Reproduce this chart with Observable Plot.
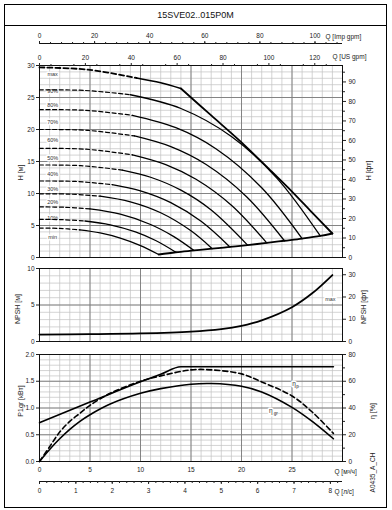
<!DOCTYPE html>
<html><head><meta charset="utf-8">
<script src="https://cdn.jsdelivr.net/npm/d3@7"></script>
<script src="https://cdn.jsdelivr.net/npm/@observablehq/plot@0.6"></script>
<style>
body{margin:0;background:#fff;}
#wrap{position:relative;width:392px;height:510px;font-family:"Liberation Sans",Arial,sans-serif;overflow:hidden;}
#wrap svg{position:absolute;left:0;top:0;}
#frame{position:absolute;left:4px;top:4px;width:383px;height:504px;border:1px solid #000;box-sizing:border-box;}
#titlebar{position:absolute;left:4px;top:25px;width:383px;height:0;border-top:1px solid #000;}
#title{position:absolute;left:4px;top:5px;width:383px;height:20px;line-height:20px;text-align:center;font-size:9px;color:#111;}
</style></head><body><div id="wrap"><div id="frame"></div><div id="titlebar"></div><div id="title"></div></div>
<script>
// ---------- DATA ----------
const title = "15SVE02..015P0M";
const curveNames = ["max","90%","80%","70%","60%","50%","40%","30%","20%","10%","min"];
const curveQ = [
 [0,4.8,9.6,12,14],
 [0,4.5,9,14,19,23.5,27.8],
 [0,4.6,9.2,13.5,17.5,22,26],
 [0,4.7,9.4,13,16.5,20.5,24.25],
 [0,4.6,9.2,12.5,15.5,19,22.5],
 [0,4.1,8.2,11,14,17,20.6],
 [0,3.6,7.2,10,13,16,18.85],
 [0,3,6,9,12,15,17.1],
 [0,2.5,5,8,11,13.3,15.3],
 [0,2.25,4.5,7,9.5,11.5,13.5],
 [0,2,4,6,8,10,11.8]];
const curveH = [
 [29.7,29.35,28.05,27.3,26.4],
 [26.2,26.1,25.43,23.28,18.91,12.41,3.37],
 [23.1,22.99,22.21,20.28,16.96,10.9,2.96],
 [20.0,19.87,18.99,17.32,14.53,9.5,2.62],
 [17.05,16.92,16.04,14.52,12.22,8.16,2.28],
 [14.45,14.35,13.66,12.54,10.52,7.42,1.94],
 [11.95,11.88,11.38,10.41,8.57,5.65,1.65],
 [9.95,9.9,9.58,8.7,6.99,4.17,1.38],
 [7.9,7.85,7.59,6.76,5.16,3.27,1.1],
 [5.95,5.91,5.7,5.11,4.0,2.65,0.82],
 [4.6,4.55,4.32,3.84,3.04,1.87,0.47]];
const dashedTo = [9.6,9,9.2,9.4,9.2,8.2,7.2,6,5,4.5,4];
const labelH = [28.6,26.05,23.8,21.1,18.3,15.5,13.0,10.7,8.6,6.1,3.2];
const labelQ = 1.3;

const powerLimitQ = [14,17,20,23,25,27,29];
const powerLimitH = [26.4,22.2,18.0,13.4,10.3,7.0,3.75];

const npshQ = [0,5,10,15,18,20,22,25,27,29];
const npshM = [0.95,1.0,1.1,1.35,1.7,2.15,2.9,4.7,6.6,9.1];

const p1Q = [0,5,10,12,14,29.1];
const p1kW = [0.725,1.11,1.49,1.63,1.77,1.77];

const etaQ  = [0,1,2,3,4,5,7,10,12,15,17,20,22,25,27,29.1];
const etaGr = [0,9,17,24,30,35,43,51,54.5,57.8,58.3,56.3,52,40.5,30,17];
const etaP  = [0,11,22,30,36,42,51,60,64,68.5,68.5,65.5,59.5,49,37,21];

const hTicks = [0,5,10,15,20,25,30];
const ftTicks = [0,10,20,30,40,50,60,70,80,90];
const usTicks = [0,20,40,60,80,100,120];
const impTicks = [0,20,40,60,80,100];
const qTicks = [0,5,10,15,20,25];
const lpsTicks = [0,1,2,3,4,5,6,7,8];
const npshTicks = [0,5,10];
const npshFtTicks = [0,10,20,30];
const pTicks = [0,0.5,1.0,1.5,2.0];
const etaTicks = [0,20,40,60,80];

document.getElementById("title").textContent = title;

// ---------- HELPERS ----------
const FT = 0.3048, USG = 4.402868, IMPG = 3.666154, LPS = 3.6, ETA = 40;
const font = "'Liberation Sans', Arial, sans-serif";
const minorCol = "#c2c2c2", majorCol = "#7a7a7a";
function base(height, top, bottom){
  return {width:392, height, marginTop:top, marginBottom:bottom, marginLeft:39, marginRight:50,
    style:{background:"transparent", overflow:"visible", fontFamily:font, fontSize:"6.5px", color:"#222"},
    x:{domain:[0,30], axis:null}};
}
const range = (a,b,s)=>d3.range(a,b+s/2,s).map(v=>+v.toFixed(6));
const grids = (ymax, ymin, ymaj) => [
  Plot.gridX(range(0,30,1), {stroke:minorCol, strokeOpacity:1, strokeWidth:0.7}),
  Plot.gridY(range(0,ymax,ymin), {stroke:minorCol, strokeOpacity:1, strokeWidth:0.7}),
  Plot.gridX(range(0,30,5), {stroke:majorCol, strokeOpacity:1, strokeWidth:0.9}),
  Plot.gridY(range(0,ymax,ymaj), {stroke:majorCol, strokeOpacity:1, strokeWidth:0.9}),
  Plot.frame({stroke:"#111", strokeWidth:1})
];
const vLabel = (txt, anchor, dx, dy) => Plot.text([txt], {text:d=>d, frameAnchor:anchor, dx, dy, rotate:-90, textAnchor:"middle", lineAnchor:"middle", fontSize:7});
const hLabel = (txt, anchor, dx, dy) => Plot.text([txt], {text:d=>d, frameAnchor:anchor, dx, dy, textAnchor:"start", lineAnchor:"middle", fontSize:6.5});

// ---------- MAIN H-Q ----------
const curveRows = [];
curveNames.forEach((name,i)=>{
  curveQ[i].forEach((q,j)=>{
    const h = curveH[i][j];
    if (q <= dashedTo[i]) curveRows.push({key:name+"-d", name, dash:true, Q:q, H:h});
    if (q >= dashedTo[i]) curveRows.push({key:name+"-s", name, dash:false, Q:q, H:h});
  });
});
const isMax = d => d.name === "max";
const powerRows = powerLimitQ.map((q,i)=>({Q:q, H:powerLimitH[i]}));
const envRows = curveNames.slice(1).map((n,i)=>({Q:curveQ[i+1][curveQ[i+1].length-1], H:curveH[i+1][curveH[i+1].length-1]}))
  .concat([powerRows[powerRows.length-1]]).sort((a,b)=>a.Q-b.Q);
const labelRows = curveNames.map((n,i)=>({name:n, Q:labelQ, H:labelH[i]}));

const main = Plot.plot({...base(262, 65, 5), y:{domain:[0,30], axis:null}, marks:[
  ...grids(30,1,5),
  Plot.axisY(hTicks, {anchor:"left", tickSize:3, tickPadding:2, label:null}),
  Plot.axisY(ftTicks.map(f=>f*FT), {anchor:"right", tickSize:3, tickPadding:3, tickFormat:d=>Math.round(d/FT), label:null}),
  Plot.axisY(range(5,95,10).map(f=>f*FT), {anchor:"right", tickSize:2, text:null, label:null}),
  Plot.axisX(usTicks.map(g=>g/USG), {anchor:"top", tickSize:3, tickPadding:3, tickFormat:d=>Math.round(d*USG), label:null}),
  Plot.axisX(range(5,125,10).map(g=>g/USG), {anchor:"top", tickSize:2, text:null, label:null}),
  Plot.text(labelRows, {x:"Q", y:"H", text:"name", fontSize:5.5, fill:"#333", stroke:"white", strokeWidth:3}),
  Plot.line(curveRows.filter(d=>d.dash && !isMax(d)), {x:"Q", y:"H", z:"key", stroke:"#000", strokeWidth:1.2, strokeDasharray:"4,2.6", curve:"catmull-rom"}),
  Plot.line(curveRows.filter(d=>!d.dash && !isMax(d)), {x:"Q", y:"H", z:"key", stroke:"#000", strokeWidth:1.3, curve:"catmull-rom"}),
  Plot.line(curveRows.filter(d=>d.dash && isMax(d)), {x:"Q", y:"H", stroke:"#000", strokeWidth:1.8, strokeDasharray:"5,3", curve:"catmull-rom"}),
  Plot.line(curveRows.filter(d=>!d.dash && isMax(d)), {x:"Q", y:"H", stroke:"#000", strokeWidth:1.6, curve:"catmull-rom"}),
  Plot.line(powerRows, {x:"Q", y:"H", stroke:"#000", strokeWidth:1.8, curve:"catmull-rom"}),
  Plot.line(envRows, {x:"Q", y:"H", stroke:"#000", strokeWidth:1.8, curve:"catmull-rom"}),
  vLabel("H [м]", "left", -19, 11),
  vLabel("H [фт]", "right", 26, 9),
  hLabel("Q [US gpm]", "top-right", -10, -9)
]});

// ---------- Imp gpm axis ----------
const imp = Plot.plot({...base(46, 43, 2), y:{domain:[0,1], axis:null}, marks:[
  Plot.ruleY([1], {stroke:"#111", strokeWidth:1}),
  Plot.axisX(impTicks.map(g=>g/IMPG), {anchor:"top", tickSize:3, tickPadding:3, tickFormat:d=>Math.round(d*IMPG), label:null}),
  Plot.axisX(range(4,108,4).map(g=>g/IMPG), {anchor:"top", tickSize:2, text:null, label:null}),
  hLabel("Q [Imp gpm]", "top-right", -17, -7)
]});

// ---------- NPSH ----------
const npshRows = npshQ.map((q,i)=>({Q:q, N:npshM[i]}));
const npsh = Plot.plot({...base(350, 268, 9), y:{domain:[0,10], axis:null}, marks:[
  ...grids(10,1,5),
  Plot.axisY(npshTicks, {anchor:"left", tickSize:3, tickPadding:2, label:null}),
  Plot.axisY(npshFtTicks.map(f=>f*FT), {anchor:"right", tickSize:3, tickPadding:3, tickFormat:d=>Math.round(d/FT), label:null}),
  Plot.line(npshRows, {x:"Q", y:"N", stroke:"#000", strokeWidth:1.8, curve:"catmull-rom"}),
  Plot.text(["max"], {text:d=>d, x:28.8, y:5.85, fontSize:5.5, fill:"#333", stroke:"white", strokeWidth:3}),
  vLabel("NPSH [м]", "left", -22, 4),
  vLabel("NPSH [фт]", "right", 21, 2)
]});

// ---------- POWER / EFFICIENCY ----------
const p1Rows = p1Q.map((q,i)=>({Q:q, P:p1kW[i]}));
const grRows = etaQ.map((q,i)=>({Q:q, P:etaGr[i]/ETA}));
const epRows = etaQ.map((q,i)=>({Q:q, P:etaP[i]/ETA}));
const power = Plot.plot({...base(500, 354, 39), y:{domain:[0,2], axis:null}, marks:[
  ...grids(2,0.1,0.5),
  Plot.axisY(pTicks, {anchor:"left", tickSize:3, tickPadding:2, tickFormat:d=>d.toFixed(1), label:null}),
  Plot.axisY(etaTicks.map(e=>e/ETA), {anchor:"right", tickSize:3, tickPadding:3, tickFormat:d=>Math.round(d*ETA), label:null}),
  Plot.axisY(range(10,70,20).map(e=>e/ETA), {anchor:"right", tickSize:2, text:null, label:null}),
  Plot.axisX(qTicks, {anchor:"bottom", tickSize:0, tickPadding:6, label:null}),
  Plot.line(p1Rows, {x:"Q", y:"P", stroke:"#000", strokeWidth:1.6, curve:"monotone-x"}),
  Plot.line(grRows, {x:"Q", y:"P", stroke:"#000", strokeWidth:1.6, curve:"catmull-rom"}),
  Plot.line(epRows, {x:"Q", y:"P", stroke:"#000", strokeWidth:1.6, strokeDasharray:"5,3", curve:"catmull-rom"}),
  Plot.text(["η"], {text:d=>d, x:25.2, y:57.8/ETA, fontSize:6.5, fill:"#333", stroke:"white", strokeWidth:3}),
  Plot.text(["p"], {text:d=>d, x:25.2, y:57.8/ETA, dx:3.5, dy:2.5, fontSize:4.5, fill:"#333"}),
  Plot.text(["η"], {text:d=>d, x:22.9, y:37.5/ETA, fontSize:6.5, fill:"#333", stroke:"white", strokeWidth:3}),
  Plot.text(["gr"], {text:d=>d, x:22.9, y:37.5/ETA, dx:5, dy:2.5, fontSize:4.5, fill:"#333"}),
  vLabel("P1gr [кВт]", "left", -19, -7),
  vLabel("η [%]", "right", 30, 3),
  hLabel("Q [м³/ч]", "bottom-right", -8, 10),
  Plot.text(["A0435_A_CH"], {text:d=>d, frameAnchor:"bottom-right", dx:30, dy:11, rotate:-90, textAnchor:"middle", lineAnchor:"middle", fontSize:6.5})
]});

// ---------- l/s axis ----------
const lps = Plot.plot({...base(500, 480, 19), y:{domain:[0,1], axis:null}, marks:[
  Plot.ruleY([0], {stroke:"#111", strokeWidth:1}),
  Plot.axisX(lpsTicks.map(v=>v*LPS), {anchor:"bottom", tickSize:3, tickPadding:4, tickFormat:d=>Math.round(d/LPS), label:null}),
  Plot.axisX(range(0.2,8.2,0.2).map(v=>v*LPS), {anchor:"bottom", tickSize:2, text:null, label:null}),
  hLabel("Q [л/с]", "bottom-right", -8, 10)
]});

const wrap = document.getElementById("wrap");
[imp, main, npsh, power, lps].forEach(s=>wrap.appendChild(s));
</script></body></html>
